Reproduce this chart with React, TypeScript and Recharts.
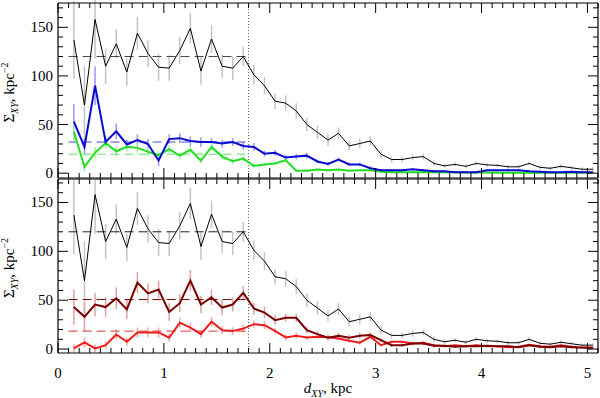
import React from 'react';
import { ComposedChart, Line, XAxis, YAxis, ErrorBar, ReferenceLine } from 'recharts';

// projected distance d_XY (kpc), bin centres
const dXY = [0.15, 0.25, 0.35, 0.45, 0.55, 0.65, 0.75, 0.85, 0.95, 1.05, 1.15, 1.25, 1.35, 1.45, 1.55, 1.65, 1.75,
  1.85, 1.95, 2.05, 2.15, 2.25, 2.35, 2.45, 2.55, 2.65, 2.75, 2.85, 2.95, 3.05, 3.15, 3.25, 3.35, 3.45, 3.55,
  3.65, 3.75, 3.85, 3.95, 4.05, 4.15, 4.25, 4.35, 4.45, 4.55, 4.65, 4.75, 4.85, 4.95, 5.05];

// black: all sources (both panels)
const allSigma = [137, 70, 158, 110, 133, 104, 144, 123, 109, 108, 126, 149, 105, 138, 110, 108, 120,
  101, 90, 74, 72, 64, 50, 42, 34, 41, 28, 30.5, 33, 19.5, 14, 14, 16, 17, 10,
  7.5, 9, 7, 10, 8.5, 8, 6.5, 6.5, 10, 6, 5, 7, 5.5, 4, 4];
const allErr = [40, 40, 40, 18, 15, 14, 17, 14, 14, 13, 14, 16, 14, 14, 12, 12, 10,
  10, 9, 8, 8, 8, 7, 7, 6, 6, 5, 5, 5, 4, 3, 3, 3, 3, 3,
  2, 2, 2, 2, 2, 2, 2, 2, 2, 2, 2, 2, 2, 2, 2];

// top panel: blue and green
const blueSigma = [53, 27, 90, 32, 43, 29.5, 34, 30, 13, 35, 36, 33, 32, 32, 30.5, 32, 28,
  27, 20, 21, 16, 17, 18, 12, 9.5, 14, 9, 9, 5, 3, 3, 3, 4, 3, 2,
  2, 1, 1, 1, 3, 3, 3, 3, 2, 1.5, 1, 1, 1.5, 1, 1];
const blueErr = [18, 8, 20, 6, 8, 5, 6, 5, 6, 5, 5, 5, 5, 4, 4, 4, 4,
  4, 3, 3, 3, 3, 3, 2, 2, 2, 2, 2, 2, 1, 1, 1, 1, 1, 1,
  1, 1, 1, 1, 1, 1, 1, 1, 1, 1, 1, 1, 1, 1, 1];
const greenSigma = [42.5, 6.5, 21, 31, 22.5, 27, 26, 22, 18.5, 24.7, 18, 24, 12.7, 27, 17, 12.3, 15,
  7.5, 9, 10, 13.4, 2.4, 2.4, 3.8, 3, 3.8, 2.4, 3, 3, 1.5, 1, 1, 1, 1, 1,
  0.8, 0.8, 0.6, 0.6, 0.6, 0.5, 0.5, 0.5, 0.5, 0.5, 0.5, 0.5, 0.5, 0.5, 0.5];
const greenErr = [10, 5, 6, 6, 5, 5, 5, 4, 4, 4, 4, 4, 3, 4, 3, 3, 3,
  2, 2, 2, 2, 1, 1, 1, 1, 1, 1, 1, 1, 1, 1, 1, 1, 1, 1,
  1, 1, 1, 1, 1, 1, 1, 1, 1, 1, 1, 1, 1, 1, 1];

// bottom panel: dark red and red
const darkRedSigma = [43, 33, 45.6, 43, 52, 40.5, 68, 57, 61, 38, 47, 70, 45.6, 53, 42.5, 45.6, 57.5,
  41.5, 37.4, 29.6, 32, 32, 19.4, 15.3, 11.6, 13.6, 11.6, 13.6, 14.3, 9.2, 4, 4, 5.8, 5.8, 3.4,
  3.5, 2.5, 3, 3, 3.5, 3, 3, 2, 4, 2.5, 2, 3, 2, 1.5, 1];
const darkRedErr = [18, 15, 12, 10, 11, 10, 11, 10, 9, 9, 9, 11, 9, 8, 8, 7, 7,
  6, 6, 5, 4, 4, 3, 3, 3, 3, 3, 3, 3, 2, 2, 2, 2, 2, 2,
  1, 1, 1, 1, 1, 1, 1, 1, 1, 1, 1, 1, 1, 1, 1];
const redSigma = [0.7, 6.8, 0.7, 4, 15, 7.5, 17, 17, 17, 11.6, 27, 22, 15.3, 28, 19.4, 18.4, 21,
  25.5, 24.5, 18.7, 11.9, 13.6, 11.9, 12.6, 12, 10.9, 8.5, 6.5, 12.6, 4, 7.5, 7.5, 5.8, 6.5, 4,
  3, 4, 3, 4, 3, 3, 2, 2.5, 4.5, 3, 2.5, 4, 2.5, 1.5, 1.5];
const redErr = [4, 5, 4, 4, 5, 4, 5, 5, 5, 4, 5, 5, 4, 5, 4, 4, 4,
  4, 4, 3, 3, 3, 2, 2, 2, 2, 2, 2, 2, 1, 1, 1, 1, 1, 1,
  1, 1, 1, 1, 1, 1, 1, 1, 1, 1, 1, 1, 1, 1, 1];

// mean levels inside the inner region (dashed)
const meanRange = [0.1, 1.8];
const topMeans = [120, 32, 19.5];
const bottomMeans = [120, 50.7, 18.4];
const boundary = 1.8;

const xMajorLabels = [0, 1, 2, 3, 4, 5];
const yMajorLabels = [0, 50, 100, 150];
const xTicks = Array.from({ length: 52 }, (_, i) => Math.round(i) / 10);
const yTicks = Array.from({ length: 18 }, (_, i) => i * 10);

const topData = dXY.map((x, i) => ({
  x, all: allSigma[i], allErr: allErr[i],
  blue: blueSigma[i], blueErr: blueErr[i],
  green: greenSigma[i], greenErr: greenErr[i],
}));
const bottomData = dXY.map((x, i) => ({
  x, all: allSigma[i], allErr: allErr[i],
  dred: darkRedSigma[i], dredErr: darkRedErr[i],
  red: redSigma[i], redErr: redErr[i],
}));

const FONT = 'Liberation Serif';
const isMajorX = (v: number) => xMajorLabels.some((m) => Math.abs(m - v) < 1e-6);
const isMajorY = (v: number) => yMajorLabels.includes(v);

const XTick = (props: any) => {
  const { x, y, payload, side, showLabel } = props;
  const major = isMajorX(payload.value);
  const len = major ? 10 : 5;
  const dir = side === 'bottom' ? -1 : 1;
  return (
    <g>
      <line x1={x} x2={x} y1={y} y2={y + dir * len} stroke="#000" strokeWidth={1} />
      {showLabel && major ? (
        <text x={x} y={y + 25} textAnchor="middle" fontFamily={FONT} fontSize={15} fill="#000">
          {Math.round(payload.value)}
        </text>
      ) : null}
    </g>
  );
};

const YTick = (props: any) => {
  const { x, y, payload, side } = props;
  const major = isMajorY(payload.value);
  const len = major ? 10 : 5;
  const dir = side === 'left' ? 1 : -1;
  return (
    <g>
      <line x1={x} x2={x + dir * len} y1={y} y2={y} stroke="#000" strokeWidth={1} />
      {side === 'left' && major ? (
        <text x={x - 5} y={y + 5} textAnchor="end" fontFamily={FONT} fontSize={15} fill="#000">
          {payload.value}
        </text>
      ) : null}
    </g>
  );
};

const YTitle = (props: any) => {
  const vb = props.viewBox || { x: 0, y: 0, width: 58, height: 170 };
  const cx = vb.x + 14;
  const cy = vb.y + vb.height / 2 + 2;
  return (
    <text x={cx} y={cy} transform={`rotate(-90, ${cx}, ${cy})`} textAnchor="middle"
      fontFamily={FONT} fontSize={15} fill="#000">
      Σ<tspan fontSize={10} fontStyle="italic" dy={4}>XY</tspan>
      <tspan dy={-4}>, kpc</tspan>
      <tspan fontSize={10} dy={-6}>−2</tspan>
    </text>
  );
};

const XTitle = (props: any) => {
  const vb = props.viewBox || { x: 58, y: 175, width: 540, height: 45 };
  const cx = vb.x + vb.width / 2;
  const cy = vb.y + 40;
  return (
    <text x={cx} y={cy} textAnchor="middle" fontFamily={FONT} fontSize={15} fill="#000">
      <tspan fontStyle="italic">d</tspan>
      <tspan fontSize={10} fontStyle="italic" dy={4}>XY</tspan>
      <tspan dy={-4}>, kpc</tspan>
    </text>
  );
};

const X_DOMAIN: [number, number] = [0, 5.1];

function axes(yDomain: [number, number], topH: number, bottomH: number, bottomLabels: boolean) {
  return [
    <XAxis key="xb" xAxisId={0} dataKey="x" type="number" domain={X_DOMAIN} ticks={xTicks} interval={0}
      allowDataOverflow height={bottomH} tickSize={0} tickMargin={0} tickLine={false}
      axisLine={{ stroke: '#000', strokeWidth: 1.2 }}
      tick={(p: any) => <XTick {...p} side="bottom" showLabel={bottomLabels} />}
      label={bottomLabels ? <XTitle /> : undefined} />,
    <XAxis key="xt" xAxisId="top" orientation="top" dataKey="x" type="number" domain={X_DOMAIN} ticks={xTicks}
      interval={0} allowDataOverflow height={topH} tickSize={0} tickMargin={0} tickLine={false}
      axisLine={{ stroke: '#000', strokeWidth: 1.2 }}
      tick={(p: any) => <XTick {...p} side="top" showLabel={false} />} />,
    <YAxis key="yl" yAxisId={0} type="number" domain={yDomain} ticks={yTicks} interval={0} allowDataOverflow
      width={58} tickSize={0} tickMargin={0} tickLine={false}
      axisLine={{ stroke: '#000', strokeWidth: 1.2 }}
      tick={(p: any) => <YTick {...p} side="left" />} label={<YTitle />} />,
    <YAxis key="yr" yAxisId="r" orientation="right" type="number" domain={yDomain} ticks={yTicks} interval={0}
      allowDataOverflow width={2} tickSize={0} tickMargin={0} tickLine={false}
      axisLine={{ stroke: '#000', strokeWidth: 1.2 }}
      tick={(p: any) => <YTick {...p} side="right" />} />,
  ];
}

function errLine(key: string, errKey: string, color: string) {
  return (
    <Line key={'e' + key} dataKey={key} stroke="none" dot={false} activeDot={false}
      isAnimationActive={false} legendType="none">
      <ErrorBar dataKey={errKey} direction="y" width={0} stroke={color} strokeWidth={1.5} isAnimationActive={false} />
    </Line>
  );
}

function meanLine(key: string, y: number, color: string, dash: string) {
  return (
    <ReferenceLine key={key} segment={[{ x: meanRange[0], y }, { x: meanRange[1], y }]}
      stroke={color} strokeWidth={1} strokeDasharray={dash} ifOverflow="hidden" />
  );
}

export default function App() {
  return (
    <div style={{ position: 'absolute', left: 0, top: 0, width: 600, height: 398, background: '#fff' }}>
      <div style={{ position: 'absolute', left: 0, top: 0 }}>
        <ComposedChart width={600} height={180} data={topData} margin={{ top: 0, right: 0, bottom: 0, left: 0 }}>
          {axes([-5, 175], 3, 2, false)}
          {errLine('all', 'allErr', '#c4c4c4')}
          {errLine('blue', 'blueErr', '#9a9aff')}
          {errLine('green', 'greenErr', '#a6f0a6')}
          {meanLine('m0', topMeans[0], '#444', '9 5')}
          {meanLine('m1', topMeans[1], '#4a4ae0', '9 5')}
          {meanLine('m2', topMeans[2], '#66e066', '9 5')}
          <ReferenceLine x={boundary} stroke="#555" strokeDasharray="1 2" />
          <Line dataKey="all" type="linear" stroke="#000" strokeWidth={1} dot={false} activeDot={false} isAnimationActive={false} />
          <Line dataKey="green" type="linear" stroke="#22dd22" strokeWidth={2} dot={false} activeDot={false} isAnimationActive={false} />
          <Line dataKey="blue" type="linear" stroke="#0a0ad0" strokeWidth={2} dot={false} activeDot={false} isAnimationActive={false} />
        </ComposedChart>
      </div>
      <div style={{ position: 'absolute', left: 0, top: 178 }}>
        <ComposedChart width={600} height={220} data={bottomData} margin={{ top: 0, right: 0, bottom: 0, left: 0 }}>
          {axes([-4, 174], 1, 45, true)}
          {errLine('all', 'allErr', '#c4c4c4')}
          {errLine('dred', 'dredErr', '#e0a0a0')}
          {errLine('red', 'redErr', '#f4a8a8')}
          {meanLine('n0', bottomMeans[0], '#222', '9 5')}
          {meanLine('n1', bottomMeans[1], '#7a1010', '9 5')}
          {meanLine('n2', bottomMeans[2], '#dd3333', '9 5')}
          <ReferenceLine x={boundary} stroke="#555" strokeDasharray="1 2" />
          <Line dataKey="all" type="linear" stroke="#000" strokeWidth={1} dot={false} activeDot={false} isAnimationActive={false} />
          <Line dataKey="red" type="linear" stroke="#ee1c1c" strokeWidth={2} dot={false} activeDot={false} isAnimationActive={false} />
          <Line dataKey="dred" type="linear" stroke="#7a0000" strokeWidth={2} dot={false} activeDot={false} isAnimationActive={false} />
        </ComposedChart>
      </div>
    </div>
  );
}
